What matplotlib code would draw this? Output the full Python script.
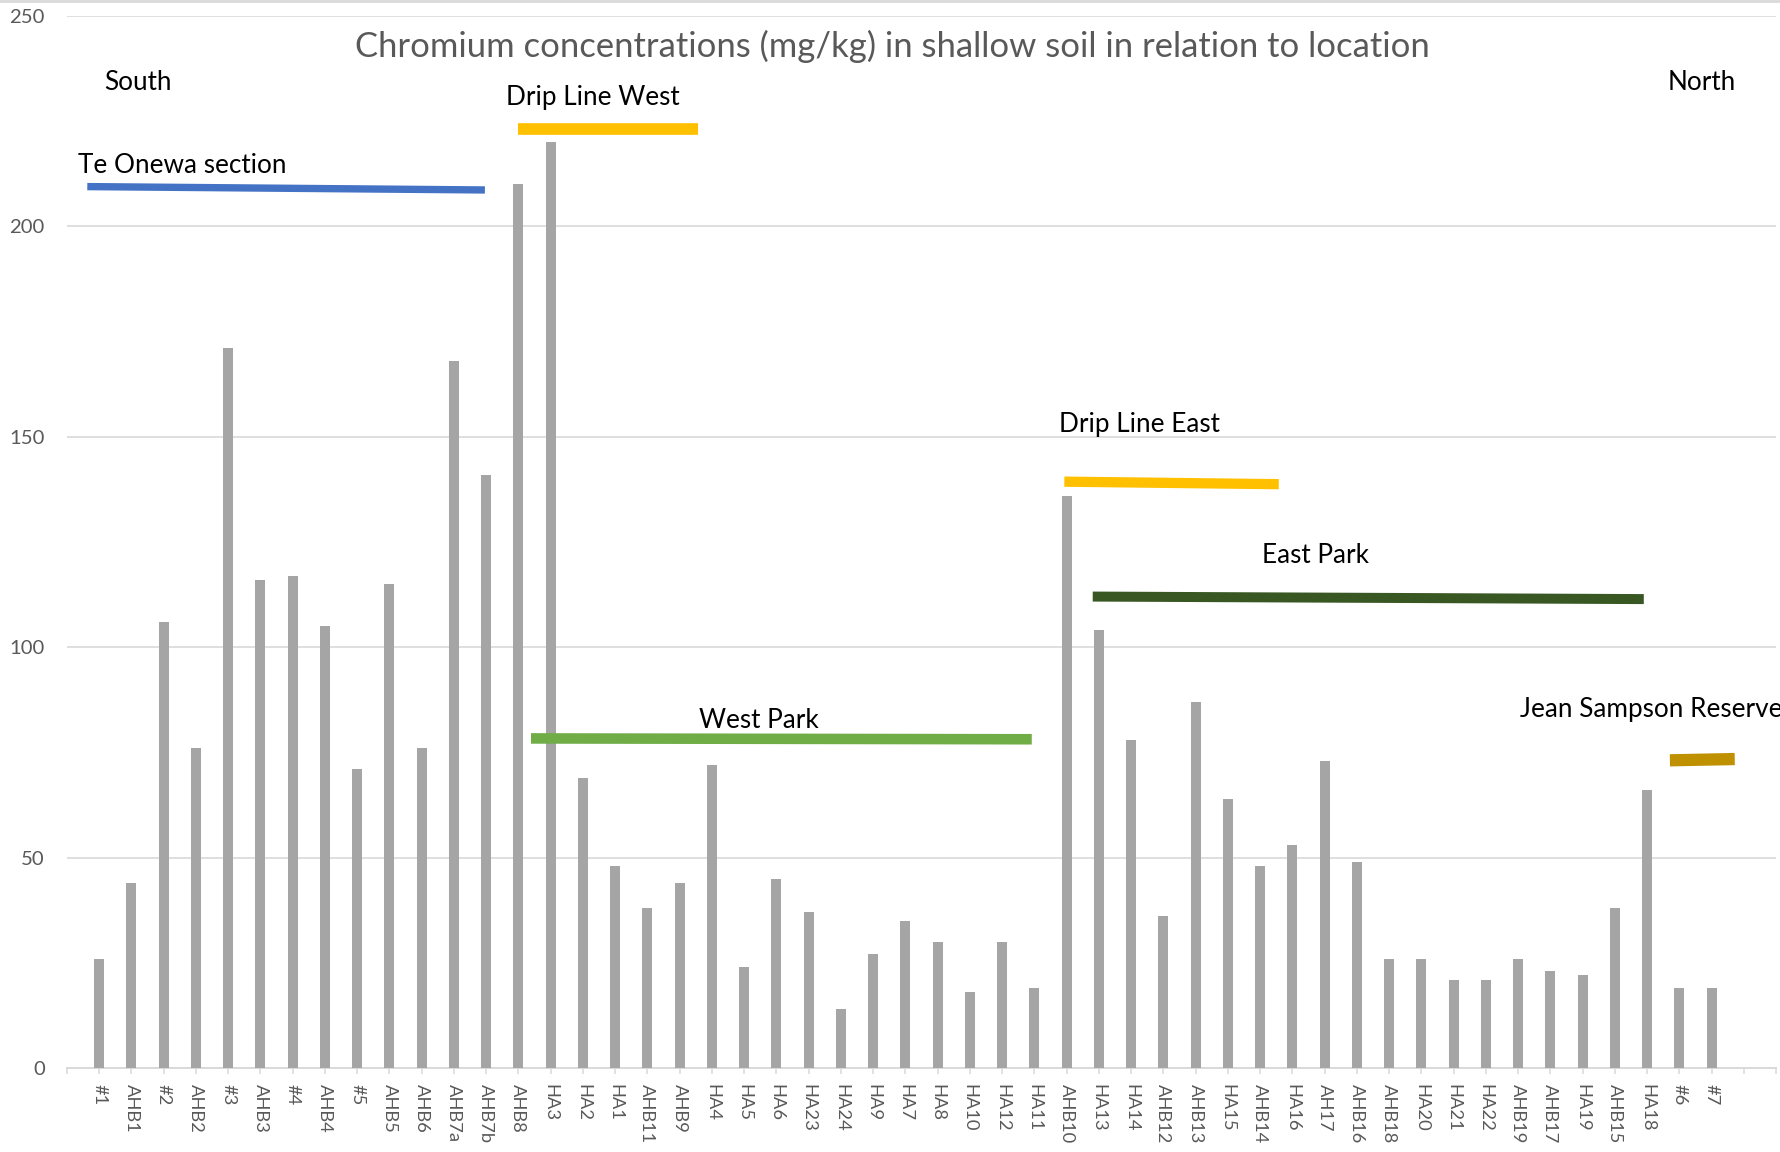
import numpy as np
import matplotlib
matplotlib.use("Agg")
import matplotlib.pyplot as plt
from matplotlib.lines import Line2D

# ---------------- data ----------------
categories = ["#1", "AHB1", "#2", "AHB2", "#3", "AHB3", "#4", "AHB4", "#5", "AHB5",
              "AHB6", "AHB7a", "AHB7b", "AHB8", "HA3", "HA2", "HA1", "AHB11", "AHB9", "HA4",
              "HA5", "HA6", "HA23", "HA24", "HA9", "HA7", "HA8", "HA10", "HA12", "HA11",
              "AHB10", "HA13", "HA14", "AHB12", "AHB13", "HA15", "AHB14", "HA16", "AH17", "AHB16",
              "AHB18", "HA20", "HA21", "HA22", "AHB19", "AHB17", "HA19", "AHB15", "HA18", "#6", "#7"]
chromium = [26, 44, 106, 76, 171, 116, 117, 105, 71, 115,
            76, 168, 141, 210, 220, 69, 48, 38, 44, 72,
            24, 45, 37, 14, 27, 35, 30, 18, 30, 19,
            136, 104, 78, 36, 87, 64, 48, 53, 73, 49,
            26, 26, 21, 21, 26, 23, 22, 38, 66, 19, 19]
y_ticks = [0, 50, 100, 150, 200, 250]

title = "Chromium concentrations (mg/kg) in shallow soil in relation to location"

# annotation groups: label, label position (x, baseline y), line x-range, line y-range, colour, width
group_names = ["Te Onewa section", "Drip Line West", "West Park", "Drip Line East",
               "East Park", "Jean Sampson Reserve"]
group_label_xy = [(0.35, 212.6), (13.6, 228.8), (19.6, 80.7), (30.76, 151.2),
                  (37.05, 119.9), (45.05, 83.4)]
group_line_x = [(0.63, 12.96), (13.98, 19.58), (14.39, 29.92), (30.93, 37.58),
                (31.81, 48.9), (49.71, 51.72)]
group_line_y = [(209.4, 208.6), (223.1, 223.1), (78.3, 78.1), (139.3, 138.7),
                (112.0, 111.4), (73.1, 73.4)]
group_colors = ["#4472C4", "#FFC000", "#70AD47", "#FFC000", "#385723", "#BF9000"]
group_lw = [5.3, 8.4, 7.6, 7.4, 7.2, 8.8]

direction_labels = ["South", "North"]
direction_xy = [(1.16, 232.4), (49.64, 232.4)]

# ---------------- figure ----------------
plt.rcParams['font.family'] = ['Lato', 'Liberation Sans', 'DejaVu Sans']

W, H = 1781, 1152
fig = plt.figure(figsize=(W / 100, H / 100), dpi=100)
fig.patch.set_facecolor("white")
ax = fig.add_axes([67 / W, (H - 1068) / H, (1776 - 67) / W, (1068 - 15.7) / H])

n_slots = len(categories) + 2
pos = np.arange(1, len(categories) + 1)
ax.bar(pos, chromium, width=0.31, color="#A5A5A5", zorder=3)

ax.set_xlim(0, n_slots)
ax.set_ylim(0, 250)
ax.set_yticks(y_ticks)
ax.set_xticks(np.arange(0, n_slots + 1))
ax.set_xticklabels([""] + categories + ["", ""], rotation=-90)

grid_c = "#D9D9D9"
for v in y_ticks[1:]:
    ax.axhline(v, color=grid_c, lw=1.2, zorder=1)
for s in ["top", "right", "left"]:
    ax.spines[s].set_visible(False)
ax.spines["bottom"].set_color(grid_c)
ax.spines["bottom"].set_linewidth(1.4)
ax.tick_params(axis="y", length=0, pad=16, colors="#595959", labelsize=13)
ax.tick_params(axis="x", length=4.5, width=1.1, color=grid_c, pad=7,
               labelcolor="#595959", labelsize=13)

# top chart border
fig.add_artist(Line2D([0, 1], [1 - 1 / H, 1 - 1 / H], transform=fig.transFigure,
                      color=grid_c, lw=2))

# title
t_title = ax.text(25.6, 240.3, title, ha="center", va="baseline", color="#595959",
                  fontsize=26, fontweight="normal", zorder=5)

# annotations
ann_texts = []
for name, (tx, ty), xr, yr, c, lw in zip(group_names, group_label_xy, group_line_x,
                                        group_line_y, group_colors, group_lw):
    ax.plot(xr, yr, color=c, lw=lw, solid_capstyle="butt", zorder=4, clip_on=False)
    ann_texts.append(ax.text(tx, ty, name, ha="left", va="baseline", color="black",
                             fontsize=17, zorder=5, clip_on=False))
for name, (tx, ty) in zip(direction_labels, direction_xy):
    ann_texts.append(ax.text(tx, ty, name, ha="left", va="baseline", color="black",
                             fontsize=17, zorder=5, clip_on=False))

# ---------- fit text sizes to the reference widths ----------
fig.canvas.draw()
r = fig.canvas.get_renderer()

def scale_for(t, target, dim="w"):
    bb = t.get_window_extent(r)
    cur = bb.width if dim == "w" else bb.height
    return t.get_fontsize() * target / cur

fs_title = scale_for(t_title, 1073)
t_title.set_fontsize(fs_title)
fs_ann = scale_for(ann_texts[0], 208)
for t in ann_texts:
    t.set_fontsize(fs_ann)

ylab = [t for t in ax.get_yticklabels() if t.get_text() == "100"][0]
ax.tick_params(axis="y", labelsize=scale_for(ylab, 35))
xlab = [t for t in ax.get_xticklabels() if t.get_text() == "AHB1"][0]
ax.tick_params(axis="x", labelsize=scale_for(xlab, 48.7, "h"))

fig.savefig("out.png", dpi=100, facecolor="white")
